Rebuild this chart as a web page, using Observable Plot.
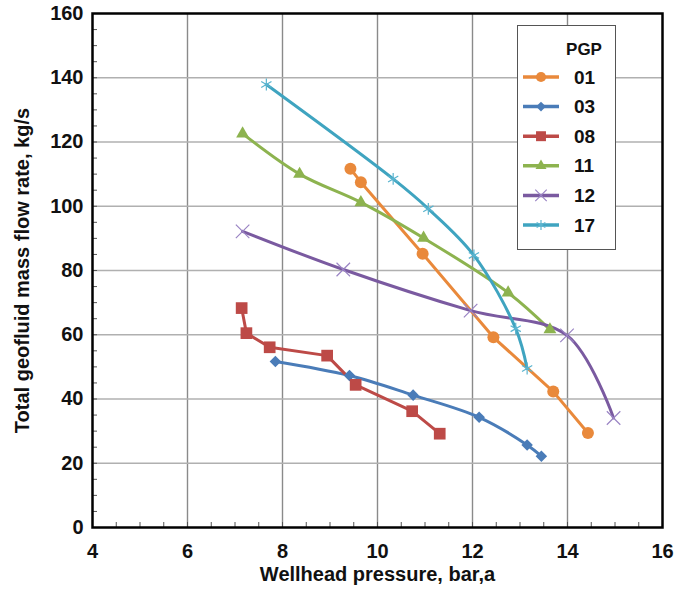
<!DOCTYPE html>
<html>
<head>
<meta charset="utf-8">
<script src="https://cdn.jsdelivr.net/npm/d3@7"></script>
<script src="https://cdn.jsdelivr.net/npm/@observablehq/plot@0.6"></script>
<style>
  html, body { margin: 0; padding: 0; background: #fff; overflow: hidden; }
  #wrap { position: relative; width: 674px; height: 594px; font-family: "Liberation Sans", Arial, sans-serif; }
  #chart svg { overflow: visible; }
  #legend { position: absolute; background: #fff; border: 1px solid #555; box-sizing: border-box; }
</style>
</head>
<body>
<div id="wrap"><div id="chart"></div><div id="legend"></div></div>
<script>
// ---- data ----
const xTicks = [4, 6, 8, 10, 12, 14, 16];
const yTicks = [0, 20, 40, 60, 80, 100, 120, 140, 160];
const series = ["01", "03", "08", "11", "12", "17"];
const seriesColors = ["#e9893b", "#4a7cb8", "#bd4a47", "#8db34f", "#7a5aa0", "#3fa4c0"];
const markerColors = ["#e9893b", "#4a7cb8", "#bd4a47", "#8db34f", "#9a84c4", "#5ab4cf"];
const seriesSymbols = ["circle", "diamond2", "square", "triangle", "times", "asterisk"];

const pgp01Pressure = [9.43, 9.65, 10.95, 12.44, 13.70, 14.43];
const pgp01Flow     = [111.7, 107.5, 85.2, 59.2, 42.3, 29.4];
const pgp03Pressure = [7.85, 9.41, 10.75, 12.14, 13.15, 13.45];
const pgp03Flow     = [51.7, 47.3, 41.2, 34.3, 25.7, 22.2];
const pgp08Pressure = [7.14, 7.24, 7.73, 8.94, 9.54, 10.73, 11.31];
const pgp08Flow     = [68.3, 60.5, 56.1, 53.5, 44.4, 36.2, 29.2];
const pgp11Pressure = [7.16, 8.36, 9.65, 10.97, 12.75, 13.63];
const pgp11Flow     = [122.6, 110.0, 101.2, 90.1, 73.1, 61.6];
const pgp12Pressure = [7.16, 9.28, 11.96, 13.99, 14.97];
const pgp12Flow     = [92.2, 80.3, 67.5, 59.8, 34.1];
const pgp17Pressure = [7.66, 10.33, 11.07, 12.03, 12.91, 13.15];
const pgp17Flow     = [137.9, 108.5, 99.2, 84.7, 61.9, 49.5];

const xGrid = [6, 8, 10, 12, 14];
const yGrid = [20, 40, 60, 80, 100, 120, 140];
const xMinor = d3.range(4.5, 16, 0.5);
const yMinor = d3.range(5, 160, 5);

const xTitle = "Wellhead pressure, bar,a";
const yTitle = "Total geofluid mass flow rate, kg/s";
const legendTitle = "PGP";

// ---- build table ----
const pressures = [pgp01Pressure, pgp03Pressure, pgp08Pressure, pgp11Pressure, pgp12Pressure, pgp17Pressure];
const flows = [pgp01Flow, pgp03Flow, pgp08Flow, pgp11Flow, pgp12Flow, pgp17Flow];
const rows = series.flatMap((s, i) => pressures[i].map((p, j) => ({series: s, pressure: p, flow: flows[i][j]})));

// ---- layout ----
const W = 674, H = 594;
const mL = 92, mR = 12, mT = 13, mB = 67;
const pxPerY = (H - mT - mB) / (yTicks[yTicks.length - 1] - yTicks[0]);
const pxPerX = (W - mL - mR) / (xTicks[xTicks.length - 1] - xTicks[0]);
const tickLen = 5;

const curves = {"01": "linear", "03": "catmull-rom", "08": "linear", "11": "catmull-rom", "12": "catmull-rom", "17": "catmull-rom"};
const radii = {"circle": 6, "diamond2": 5.2, "square": 6.6, "triangle": 4.8, "times": 6.2, "asterisk": 5.6};
const strokeOnly = new Set(["times", "asterisk"]);

const marks = [
  Plot.ruleX(xGrid, {stroke: "#8a8a8a", strokeWidth: 1.4}),
  Plot.ruleY(yGrid, {stroke: "#b0b0b0", strokeWidth: 1.4}),
  Plot.ruleX(xMinor, {x: d => d, y1: yTicks[0], y2: yTicks[0] + tickLen / pxPerY, stroke: "#555", strokeWidth: 1}),
  Plot.ruleY(yMinor, {y: d => d, x1: xTicks[0], x2: xTicks[0] + tickLen / pxPerX, stroke: "#555", strokeWidth: 1})
];
series.forEach((s, i) => {
  const d = rows.filter(r => r.series === s);
  marks.push(Plot.line(d, {x: "pressure", y: "flow", stroke: seriesColors[i], strokeWidth: 3, curve: curves[s]}));
});
series.forEach((s, i) => {
  const d = rows.filter(r => r.series === s);
  const sym = seriesSymbols[i];
  if (strokeOnly.has(sym)) {
    marks.push(Plot.dot(d, {x: "pressure", y: "flow", symbol: () => sym, r: radii[sym], stroke: markerColors[i], strokeWidth: 1.2, fill: "none"}));
  } else {
    marks.push(Plot.dot(d, {x: "pressure", y: "flow", symbol: () => sym, r: radii[sym], fill: markerColors[i], stroke: "none"}));
  }
});
marks.push(Plot.frame({stroke: "#000", strokeWidth: 2.5}));
marks.push(Plot.text([xTitle], {text: d => d, frameAnchor: "bottom", textAnchor: "middle", dy: 53, fontSize: 20, fontWeight: "bold", fill: "#111"}));
marks.push(Plot.text([yTitle], {text: d => d, frameAnchor: "left", textAnchor: "middle", dx: -70, rotate: -90, fontSize: 20, fontWeight: "bold", fill: "#111"}));

const chart = Plot.plot({
  width: W, height: H,
  marginLeft: mL, marginRight: mR, marginTop: mT, marginBottom: mB,
  style: {fontFamily: "'Liberation Sans', Arial, sans-serif", fontSize: "20px", fontWeight: "bold", color: "#111", background: "#fff", overflow: "visible"},
  x: {domain: [xTicks[0], xTicks[xTicks.length - 1]], ticks: xTicks, tickFormat: d => String(d), tickSize: 0, tickPadding: 16, label: null},
  y: {domain: [yTicks[0], yTicks[yTicks.length - 1]], ticks: yTicks, tickFormat: d => String(d), tickSize: 0, tickPadding: 9, label: null},
  marks
});
document.getElementById("chart").appendChild(chart);

// ---- legend ----
const lg = {left: 517, top: 25, width: 99, height: 225};
const legendDiv = document.getElementById("legend");
Object.assign(legendDiv.style, {left: lg.left + "px", top: lg.top + "px", width: lg.width + "px", height: lg.height + "px"});
const lsvg = d3.select(legendDiv).append("svg").attr("width", lg.width - 2).attr("height", lg.height - 2)
  .style("font-family", "'Liberation Sans', Arial, sans-serif").style("font-weight", "bold");
lsvg.append("text").attr("x", 66).attr("y", 23).attr("text-anchor", "middle").attr("dominant-baseline", "central")
  .attr("font-size", 17).attr("fill", "#111").text(legendTitle);
const d3Symbols = {circle: d3.symbolCircle, diamond2: d3.symbolDiamond2, square: d3.symbolSquare, triangle: d3.symbolTriangle, times: d3.symbolTimes, asterisk: d3.symbolAsterisk};
series.forEach((s, i) => {
  const cy = 51 + i * 29.6;
  const g = lsvg.append("g");
  g.append("line").attr("x1", 5).attr("x2", 41).attr("y1", cy).attr("y2", cy).attr("stroke", seriesColors[i]).attr("stroke-width", 3.5);
  const sym = seriesSymbols[i];
  const r = radii[sym] * 0.85;
  const path = d3.symbol(d3Symbols[sym], Math.PI * r * r)();
  const p = g.append("path").attr("d", path).attr("transform", `translate(23,${cy})`);
  if (strokeOnly.has(sym)) p.attr("fill", "none").attr("stroke", markerColors[i]).attr("stroke-width", 1.2);
  else p.attr("fill", markerColors[i]);
  g.append("text").attr("x", 56).attr("y", cy).attr("dominant-baseline", "central").attr("font-size", 19).attr("fill", "#111").text(s);
});
</script>
</body>
</html>
